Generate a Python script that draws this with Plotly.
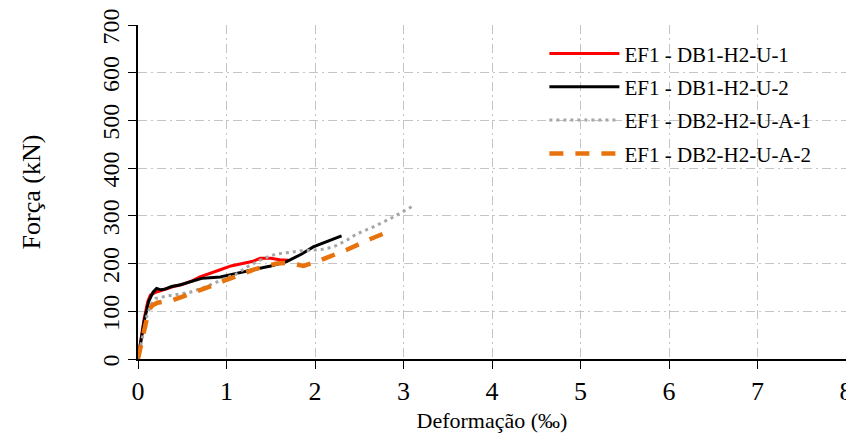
import plotly.graph_objects as go

# --- data ---
names = ["EF1 - DB1-H2-U-1", "EF1 - DB1-H2-U-2", "EF1 - DB2-H2-U-A-1", "EF1 - DB2-H2-U-A-2"]

red_x = [0, 0.03, 0.07, 0.11, 0.14, 0.2, 0.3, 0.4, 0.5, 0.6, 0.7, 0.8, 0.93, 1.05, 1.2, 1.3, 1.38, 1.5, 1.6, 1.7]
red_y = [0, 40, 85, 120, 134, 140, 146, 152, 156, 163, 172, 178, 187, 195, 201, 205, 211, 211, 208, 207]

blk_x = [0, 0.03, 0.07, 0.12, 0.17, 0.21, 0.26, 0.3, 0.38, 0.47, 0.6, 0.72, 0.85, 0.93, 1.1, 1.3, 1.5, 1.68, 1.85, 1.98, 2.15, 2.3]
blk_y = [0, 35, 80, 120, 140, 148, 145, 146, 152, 155, 162, 169, 171, 172, 179, 187, 195, 204, 220, 235, 248, 258]

gry_x = [0, 0.05, 0.1, 0.15, 0.2, 0.3, 0.45, 0.59, 0.75, 0.89, 1.0, 1.11, 1.25, 1.38, 1.49, 1.57, 1.79, 1.85, 2.06, 2.21, 2.36, 2.47, 2.66, 2.88, 3.12]
gry_y = [0, 45, 90, 115, 127, 131, 135, 140, 150, 162, 170, 178, 195, 207, 216, 220, 225, 227, 229, 235, 249, 262, 277, 297, 322]

org_x = [0, 0.04, 0.08, 0.12, 0.16, 0.22, 0.29, 0.4, 0.52, 0.66, 0.83, 1.0, 1.15, 1.3, 1.45, 1.57, 1.66, 1.75, 1.87, 1.95, 2.02, 2.1, 2.36, 2.62, 2.87]
org_y = [0, 35, 75, 102, 112, 118, 120, 124, 132, 141, 153, 166, 177, 187, 195, 200, 201, 200, 195, 199, 204, 210, 229, 251, 270]

x_ticks = [0, 1, 2, 3, 4, 5, 6, 7, 8]
y_ticks = [0, 100, 200, 300, 400, 500, 600, 700]

FONT = "Liberation Serif"

fig = go.Figure()
fig.add_trace(go.Scatter(x=red_x, y=red_y, mode="lines", name=names[0],
                         line=dict(color="#ff0000", width=3)))
fig.add_trace(go.Scatter(x=blk_x, y=blk_y, mode="lines", name=names[1],
                         line=dict(color="#000000", width=3)))
fig.add_trace(go.Scatter(x=gry_x, y=gry_y, mode="lines", name=names[2],
                         line=dict(color="#a6a6a6", width=3, dash="3px,4px")))
fig.add_trace(go.Scatter(x=org_x, y=org_y, mode="lines", name=names[3],
                         line=dict(color="#e8720c", width=4.5, dash="14px,12px")))

grid = dict(showgrid=True, gridcolor="#c4c4c4", gridwidth=1, griddash="9px,4px,2px,4px")

fig.update_layout(
    width=846, height=433,
    margin=dict(l=130, r=8, t=17, b=82),
    paper_bgcolor="white", plot_bgcolor="white",
    font=dict(family=FONT, size=22, color="black"),
    showlegend=True,
    legend=dict(x=0.574, y=0.975, xanchor="left", yanchor="top", itemwidth=70,
                font=dict(family=FONT, size=21), bgcolor="rgba(0,0,0,0)",
                tracegroupgap=3, traceorder="grouped"),
    xaxis=dict(range=[0, 8], tickvals=x_ticks, ticks="outside", ticklen=8,
               tickcolor="#000", showline=True, linecolor="#000", linewidth=1.5,
               zeroline=False, tickfont=dict(size=26), automargin=False,
               ticklabeloverflow="allow",
               title=dict(text="Deformação (‰)", font=dict(size=22), standoff=8),
               **grid),
    yaxis=dict(range=[0, 700], tickvals=y_ticks, ticks="outside", ticklen=8,
               tickcolor="#000", showline=True, linecolor="#000", linewidth=1.5,
               zeroline=False, tickangle=-90, tickfont=dict(size=24), automargin=False,
               ticklabeloverflow="allow", ticklabelshift=5,
               title=dict(text="Força (kN)", font=dict(size=26), standoff=50),
               **grid),
)
for i, tr in enumerate(fig.data):
    tr.legendgroup = str(i)

fig.write_html("out.html")
